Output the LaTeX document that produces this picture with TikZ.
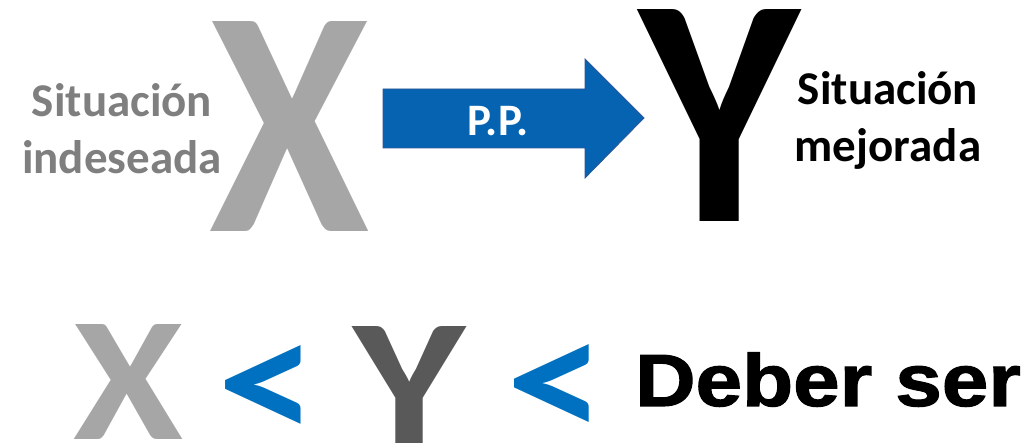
\documentclass[tikz,border=0pt]{standalone}
\usepackage{fontspec}
\setmainfont{Carlito}
\newfontfamily\heavyfont[FakeBold=1.5]{Liberation Sans Bold}
\usepackage{xcolor}
\usepackage{graphicx}
\usepackage{tikz}
\definecolor{ppblue}{RGB}{5,99,177}
\definecolor{ppedge}{RGB}{47,85,151}
\definecolor{ltblue}{RGB}{0,112,192}
\definecolor{xgray}{RGB}{166,166,166}
\definecolor{txtgray}{RGB}{127,127,127}
\definecolor{ygray}{RGB}{89,89,89}
\tikzset{
    letter/.style={
        inner sep=0pt,
        font=\bfseries,
    },
    sittext/.style={
        inner sep=0pt,
        align=center,
        font=\bfseries\fontsize{47}{57}\selectfont,
    },
    pparrow/.style={
        draw=ppedge,
        fill=ppblue,
        line width=0.8pt,
    },
}

\begin{document}
\begin{tikzpicture}[x=1pt,y=-1pt]
    \useasboundingbox (0,0) rectangle (1029,443);

    \node [sittext, text=txtgray] (bad) at (122,129) {Situación\\indeseada};
    \node [letter, text=xgray] (X) at (290,127) {\resizebox{160pt}{210pt}{X}};

    \draw [pparrow] (383,89) -- (585,89) -- (585,59) -- (644,118)
        -- (585,178) -- (585,148) -- (383,148) -- cycle;
    \node [letter, text=white, font=\bfseries\fontsize{45}{50}\selectfont] (pp) at (498,121) {P.P.};

    \node [letter, text=black] (Y) at (720,116) {\resizebox{160pt}{212pt}{Y}};
    \node [sittext, text=black] (good) at (888,120) {Situación\\mejorada};

    \node [letter, text=xgray] (x2) at (128,382) {\resizebox{110pt}{115pt}{X}};
    \node [letter, text=ltblue] (lt1) at (268,394) {\resizebox{100pt}{96pt}{<}};
    \node [letter, text=ygray] (y2) at (409,385) {\resizebox{112pt}{117pt}{Y}};
    \node [letter, text=ltblue] (lt2) at (556,392) {\resizebox{99pt}{95pt}{<}};
    \node [inner sep=0pt, anchor=base west, font=\heavyfont\fontsize{74}{80}\selectfont] (deber) at (635,406) {\scalebox{1.13}[1]{Deber ser}};
\end{tikzpicture}
\end{document}
